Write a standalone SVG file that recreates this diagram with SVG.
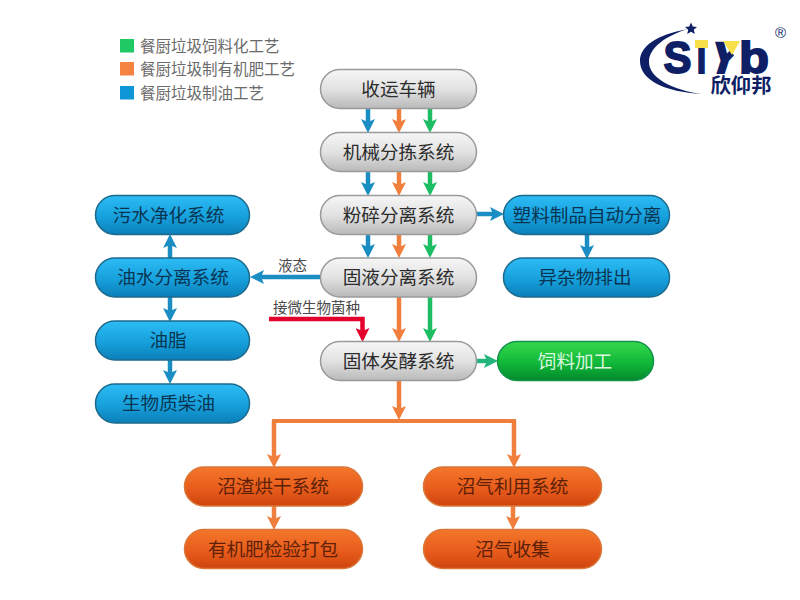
<svg xmlns="http://www.w3.org/2000/svg" width="800" height="600" viewBox="0 0 800 600">
<style>
text{font-family:"Noto Sans CJK SC","Noto Sans",sans-serif;text-anchor:middle}
.n{font-size:18.6px}
.gt{fill:#2c2c2c}.bt{fill:#0a3552}.ot{fill:#5e1f08}.vt{fill:#dcf8df}
.lg{font-size:15.5px;fill:#6a6a6a;text-anchor:start}
.lb{font-size:14.5px;fill:#4a4a4a;text-anchor:start}
.g{fill:url(#gg);stroke:#9a9a9a;stroke-width:1.5}
.b{fill:url(#gb);stroke:#1d6a8c;stroke-width:1.5}
.o{fill:url(#go);stroke:#d9773a;stroke-width:1.5}
.v{fill:url(#gv);stroke:#12924a;stroke-width:1.5}
.c{fill:none;stroke-width:4.5}
.cb{stroke:#1a8dc2;marker-end:url(#mb)}.co{stroke:#f07f3e;marker-end:url(#mo)}.cv{stroke:#1cbd63;marker-end:url(#mv)}.cr{stroke:#e3002c;marker-end:url(#mr)}.ct{stroke:#24b57c;marker-end:url(#mt)}
.bar{fill:none;stroke:#f07f3e;stroke-width:4}
.lo{font-family:"Liberation Sans",sans-serif;font-weight:700;fill:#0f1f66;stroke:#0f1f66;stroke-width:1.8}
</style>
<defs>
<linearGradient id="gg" x1="0" y1="0" x2="0" y2="1"><stop offset="0" stop-color="#f6f6f6"/><stop offset=".5" stop-color="#e2e2e2"/><stop offset="1" stop-color="#b9b9b9"/></linearGradient>
<linearGradient id="gb" x1="0" y1="0" x2="0" y2="1"><stop offset="0" stop-color="#2dbcf5"/><stop offset=".55" stop-color="#16a0dc"/><stop offset="1" stop-color="#0b7fb8"/></linearGradient>
<linearGradient id="go" x1="0" y1="0" x2="0" y2="1"><stop offset="0" stop-color="#f4762b"/><stop offset=".55" stop-color="#e85d1c"/><stop offset="1" stop-color="#cf440e"/></linearGradient>
<linearGradient id="gv" x1="0" y1="0" x2="0" y2="1"><stop offset="0" stop-color="#36d84c"/><stop offset=".55" stop-color="#10b83a"/><stop offset="1" stop-color="#038a2c"/></linearGradient>
<clipPath id="yc"><path d="M705 39H723L735 57L727 75H705Z"/></clipPath>
<marker id="mb" markerUnits="userSpaceOnUse" markerWidth="16" markerHeight="14" refX="3" refY="7" orient="auto"><path d="M0 0L14 7L0 14L3 7Z" fill="#1a8dc2"/></marker>
<marker id="mo" markerUnits="userSpaceOnUse" markerWidth="16" markerHeight="14" refX="3" refY="7" orient="auto"><path d="M0 0L14 7L0 14L3 7Z" fill="#f07f3e"/></marker>
<marker id="mv" markerUnits="userSpaceOnUse" markerWidth="16" markerHeight="14" refX="3" refY="7" orient="auto"><path d="M0 0L14 7L0 14L3 7Z" fill="#1cbd63"/></marker>
<marker id="mr" markerUnits="userSpaceOnUse" markerWidth="16" markerHeight="14" refX="3" refY="7" orient="auto"><path d="M0 0L14 7L0 14L3 7Z" fill="#e3002c"/></marker>
<marker id="mt" markerUnits="userSpaceOnUse" markerWidth="16" markerHeight="14" refX="3" refY="7" orient="auto"><path d="M0 0L14 7L0 14L3 7Z" fill="#24b57c"/></marker>
</defs>
<rect width="800" height="600" fill="#fff"/>

<g id="legend">
<rect x="120" y="39" width="14" height="13.500" fill="#1fc964"/><text class="lg" x="140" y="51.500">餐厨垃圾饲料化工艺</text>
<rect x="120" y="62" width="14" height="13.500" fill="#f58342"/><text class="lg" x="140" y="74.500">餐厨垃圾制有机肥工艺</text>
<rect x="120" y="86" width="14" height="13.500" fill="#0f96d6"/><text class="lg" x="140" y="98.500">餐厨垃圾制油工艺</text>
</g>

<g id="logo">
<path d="M688 29C655 35 640 47 640 61C640 80 665 92 702 94C672 90 649 78 649 62C649 48 665 36 688 29Z" fill="#0f1f66"/>
<path d="M691 22.500L692.700 26.500L697 26.900L693.800 29.700L694.800 34L691 31.800L687.200 34L688.200 29.700L685 26.900L689.300 26.500Z" fill="#0f1f66"/>
<text class="lo" x="677.500" y="72.500" font-size="44" textLength="28" lengthAdjust="spacingAndGlyphs">S</text>
<text class="lo" x="701.500" y="72.500" font-size="44" textLength="10" lengthAdjust="spacingAndGlyphs">i</text>
<rect x="695" y="40" width="13" height="8" fill="#f7e04a"/>
<g clip-path="url(#yc)"><text class="lo" x="726" y="73" font-size="44" textLength="30" lengthAdjust="spacingAndGlyphs" transform="translate(726 57) skewX(-18) translate(-726 -57)">Y</text></g>
<path d="M723 41H740L732 55Z" fill="#f7e04a"/>
<text class="lo" x="754" y="72.500" font-size="44" textLength="30" lengthAdjust="spacingAndGlyphs">b</text>
<text x="741" y="93" font-size="20" font-weight="700" fill="#0f1f66" textLength="61" lengthAdjust="spacingAndGlyphs">欣仰邦</text>
<text x="780.500" y="38" style="font-family:'Liberation Sans',sans-serif;font-size:15px" fill="#0f1f66">®</text>
</g>

<g id="connectors">
<path class="c cb" d="M368 108V122"/><path class="c co" d="M399 108V122"/><path class="c cv" d="M430 108V122"/>
<path class="c cb" d="M368 172V185"/><path class="c co" d="M399 172V185"/><path class="c cv" d="M430 172V185"/>
<path class="c cb" d="M368 235V247"/><path class="c co" d="M399 235V247"/><path class="c cv" d="M430 235V247"/>
<path class="c co" d="M399 297V331"/><path class="c cv" d="M430 297V331"/>
<path class="c cr" d="M269 319H362.500V331"/>
<path class="c ct" d="M476 361H487"/>
<path class="c cb" d="M476 214H493"/>
<path class="c cb" d="M587 234V248"/>
<path class="c cb" d="M320 277H261"/>
<path class="c cb" d="M170 258V245"/>
<path class="c cb" d="M170 297V311"/>
<path class="c cb" d="M170 360V373"/>
<path class="c co" d="M399 381V409"/>
<path class="bar" d="M272 421H516"/>
<path class="c co" d="M274 421V457"/><path class="c co" d="M514 421V457"/>
<path class="c co" d="M274 506V519"/><path class="c co" d="M513 506V519"/>
</g>

<text class="lb" x="278" y="271">液态</text>
<text class="lb" x="273" y="313">接微生物菌种</text>

<g id="n1"><rect class="g" x="320.500" y="69.500" width="156" height="39" rx="19.500"/><text class="n gt" x="398.500" y="95.500">收运车辆</text></g>
<g id="n2"><rect class="g" x="320.500" y="132.500" width="156" height="39" rx="19.500"/><text class="n gt" x="398.500" y="158.500">机械分拣系统</text></g>
<g id="n3"><rect class="g" x="320.500" y="195.500" width="156" height="39" rx="19.500"/><text class="n gt" x="398.500" y="221.500">粉碎分离系统</text></g>
<g id="n4"><rect class="g" x="320.500" y="258" width="156" height="39" rx="19.500"/><text class="n gt" x="398.500" y="284">固液分离系统</text></g>
<g id="n5"><rect class="g" x="320.500" y="341.500" width="156" height="39" rx="19.500"/><text class="n gt" x="398.500" y="367.500">固体发酵系统</text></g>

<g id="b1"><rect class="b" x="95.500" y="195.500" width="154" height="39" rx="19.500"/><text class="n bt" x="168.500" y="221.500">污水净化系统</text></g>
<g id="b2"><rect class="b" x="95.500" y="258" width="154" height="39" rx="19.500"/><text class="n bt" x="173" y="284">油水分离系统</text></g>
<g id="b3"><rect class="b" x="95.500" y="321" width="154" height="39" rx="19.500"/><text class="n bt" x="168" y="347">油脂</text></g>
<g id="b4"><rect class="b" x="95.500" y="384" width="154" height="39" rx="19.500"/><text class="n bt" x="168.500" y="410">生物质柴油</text></g>

<g id="r1"><rect class="b" x="503.500" y="195.500" width="166" height="39" rx="19.500"/><text class="n bt" x="587" y="221.500">塑料制品自动分离</text></g>
<g id="r2"><rect class="b" x="503.500" y="258" width="166" height="39" rx="19.500"/><text class="n bt" x="585" y="284">异杂物排出</text></g>
<g id="v1"><rect class="v" x="497.500" y="341.500" width="156" height="39" rx="19.500"/><text class="n vt" x="575" y="367.500">饲料加工</text></g>

<g id="o1"><rect class="o" x="184.500" y="467" width="178" height="39" rx="19.500"/><text class="n ot" x="273" y="493">沼渣烘干系统</text></g>
<g id="o2"><rect class="o" x="184.500" y="529.500" width="178" height="39" rx="19.500"/><text class="n ot" x="273" y="555.500">有机肥检验打包</text></g>
<g id="o3"><rect class="o" x="423.500" y="467" width="178" height="39" rx="19.500"/><text class="n ot" x="512.500" y="493">沼气利用系统</text></g>
<g id="o4"><rect class="o" x="423.500" y="529.500" width="178" height="39" rx="19.500"/><text class="n ot" x="512.500" y="555.500">沼气收集</text></g>
</svg>
